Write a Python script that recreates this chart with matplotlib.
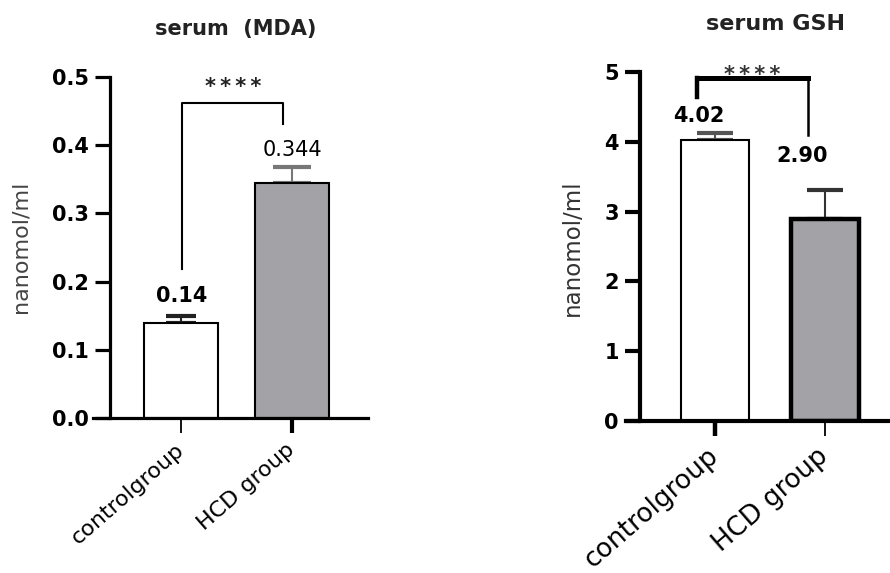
import matplotlib.pyplot as plt

plt.rcParams['font.family'] = ['DejaVu Sans']

# Group labels and bar values
groups = ["controlgroup", "HCD group"]

mda_means = [0.14, 0.344]
mda_errors = [0.010, 0.024]
mda_labels = ["0.14", "0.344"]

gsh_means = [4.02, 2.90]
gsh_errors = [0.11, 0.41]
gsh_labels = ["4.02", "2.90"]

bar_colors = ["white", "#a3a2a6"]
stars = "*\u2009*\u2009*\u2009*"

W, H = 890, 573
fig = plt.figure(figsize=(W / 100, H / 100), dpi=100)


def px_box(x0, x1, ytop, ybot):
    return [x0 / W, 1 - ybot / H, (x1 - x0) / W, (ybot - ytop) / H]


def style_axes(ax, spine_pos, lw, tick_pad, xpad):
    ax.spines['top'].set_visible(False)
    ax.spines['right'].set_visible(False)
    ax.spines['left'].set_position(('data', spine_pos))
    ax.spines['left'].set_linewidth(lw)
    ax.spines['bottom'].set_linewidth(lw)
    ax.tick_params(axis='y', length=10.5, width=lw, pad=tick_pad)
    ax.tick_params(axis='x', length=11, width=1.3, pad=xpad)


def draw_errors(ax, means, errors, colors, caps):
    for i, (m, e, c, cs) in enumerate(zip(means, errors, colors, caps)):
        ax.errorbar([i], [m], yerr=[[0], [e]], fmt='none', ecolor=c,
                    elinewidth=1.5, capsize=cs, capthick=3, zorder=1)


# ---- serum MDA ----
ax1 = fig.add_axes(px_box(93, 368, 77, 418))
ax1.bar([0, 1], mda_means, width=0.66, color=bar_colors,
        edgecolor="black", linewidth=1.5, zorder=2)
draw_errors(ax1, mda_means, mda_errors, ["#222222", "#777777"], [10.5, 13.5])
ax1.set_xlim(-0.793, 1.685)
ax1.set_ylim(0, 0.5)
style_axes(ax1, -0.64, 2.3, 4.5, 10)
ax1.set_yticks([0.0, 0.1, 0.2, 0.3, 0.4, 0.5])
ax1.set_yticklabels(["0.0", "0.1", "0.2", "0.3", "0.4", "0.5"],
                    fontsize=15, fontweight='bold')
ax1.set_xticks([0, 1])
ax1.set_xticklabels(groups, rotation=41, ha='right', va='center',
                    rotation_mode='anchor', fontsize=16)
ax1.get_xticklines()[2].set_markeredgewidth(3)
ax1.set_ylabel("nanomol/ml", fontsize=16, color="#444444")
ax1.yaxis.set_label_coords(-0.228, 0.503)

# significance bracket
ax1.plot([0.01, 0.01, 0.92, 0.92], [0.218, 0.462, 0.462, 0.431],
         color="black", linewidth=1.5)
ax1.text(0.47, 0.477, stars, ha='center', va='baseline', fontsize=15,
         fontweight='bold', color="#222222")
ax1.text(0.01, 0.1706, mda_labels[0], ha='center', va='baseline',
         fontsize=15, fontweight='bold')
ax1.text(1, 0.384, mda_labels[1], ha='center', va='baseline', fontsize=15)

fig.text(236 / W, 1 - 35 / H, "serum  (MDA)", ha='center', va='baseline',
         fontsize=15, fontweight='bold', color="#222222")

# ---- serum GSH ----
ax2 = fig.add_axes(px_box(626, 890, 72, 421))
ax2.bar([0], gsh_means[:1], width=0.62, color=bar_colors[0],
        edgecolor="black", linewidth=1.5, zorder=2)
ax2.bar([1], gsh_means[1:], width=0.62, color=bar_colors[1],
        edgecolor="black", linewidth=3.2, zorder=2)
draw_errors(ax2, gsh_means, gsh_errors, ["#555555", "#333333"], [13, 13])
ax2.set_xlim(-0.81, 1.59)
ax2.set_ylim(0, 5)
style_axes(ax2, -0.68, 3.0, 5, 12)
ax2.set_yticks([0, 1, 2, 3, 4, 5])
ax2.set_yticklabels(["0", "1", "2", "3", "4", "5"], fontsize=15,
                    fontweight='bold')
ax2.set_xticks([0, 1])
ax2.set_xticklabels(groups, rotation=41, ha='right', va='center',
                    rotation_mode='anchor', fontsize=19)
ax2.get_xticklines()[0].set_markeredgewidth(3.2)
ax2.set_ylabel("nanomol/ml", fontsize=16.5, color="#333333")
ax2.yaxis.set_label_coords(-0.159, 0.497)

ax2.text(0.34, 4.864, stars, ha='center', va='baseline', fontsize=15,
         fontweight='bold', color="#333333", zorder=1)
ax2.plot([-0.165, -0.165], [4.64, 4.92], color="black", linewidth=3.2,
         solid_capstyle='projecting', zorder=3)
ax2.plot([0.84, 0.84], [4.92, 4.10], color="black", linewidth=1.8, zorder=3)
ax2.plot([-0.165, 0.84], [4.92, 4.92], color="black", linewidth=3.6,
         solid_capstyle='projecting', zorder=3)
ax2.text(-0.15, 4.28, gsh_labels[0], ha='center', va='baseline',
         fontsize=15, fontweight='bold')
ax2.text(0.795, 3.71, gsh_labels[1], ha='center', va='baseline',
         fontsize=15, fontweight='bold')

fig.text(775 / W, 1 - 30 / H, "serum GSH", ha='center', va='baseline',
         fontsize=16, fontweight='bold', color="#222222")

fig.savefig("out.png", dpi=100)
